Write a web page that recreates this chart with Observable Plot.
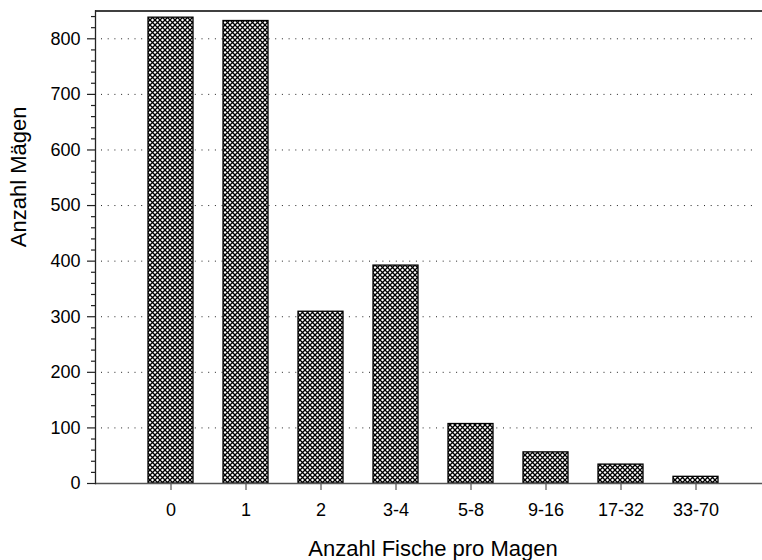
<!DOCTYPE html>
<html><head><meta charset="utf-8">
<script src="https://cdn.jsdelivr.net/npm/d3@7"></script>
<script src="https://cdn.jsdelivr.net/npm/@observablehq/plot@0.6"></script>
<style>body{margin:0;background:#fff}</style>
</head><body><div id="chart"></div>
<script>
const categories = ["0", "1", "2", "3-4", "5-8", "9-16", "17-32", "33-70"];
const counts = [838, 832, 309, 392, 107, 56, 34, 12];
const majorTicks = [0, 100, 200, 300, 400, 500, 600, 700, 800];
const minorTicks = [20, 40, 60, 80, 120, 140, 160, 180, 220, 240, 260, 280, 320, 340, 360, 380, 420, 440, 460, 480, 520, 540, 560, 580, 620, 640, 660, 680, 720, 740, 760, 780, 820, 840];
const gridTicks = [100, 200, 300, 400, 500, 600, 700, 800];
const xLabel = "Anzahl Fische pro Magen";
const yLabel = "Anzahl Mägen";

const data = categories.map((c, i) => ({category: c, count: counts[i]}));

const chart = Plot.plot({
  width: 762,
  height: 560,
  marginLeft: 95,
  marginRight: 0,
  marginTop: 10.5,
  marginBottom: 77,
  x: {domain: categories, range: [95, 770], paddingInner: 0.4, paddingOuter: 0.7, label: null, axis: null},
  y: {domain: [0, 850], label: null, axis: null},
  style: {fontFamily: "'Liberation Sans', Arial, sans-serif", fontSize: "18px", color: "black", background: "white", overflow: "visible"},
  marks: [
    Plot.ruleY(gridTicks, {stroke: "#222", strokeWidth: 1, strokeDasharray: "1,5.7", insetLeft: 6, insetRight: 9}),
    Plot.barY(data, {x: "category", y: "count", fill: "url(#hatch)", stroke: "black", strokeWidth: 1.3}),
    Plot.ruleY([850], {stroke: "black", strokeWidth: 1.3}),
    Plot.ruleY([0], {stroke: "#555", strokeWidth: 1.3}),
    Plot.frame({anchor: "left", stroke: "#222", strokeWidth: 1.3}),
    Plot.axisY(majorTicks, {tickSize: 8, tickPadding: 7, fontSize: 18, stroke: "#222", strokeWidth: 1.2, label: null}),
    Plot.axisY(minorTicks, {tickSize: 4, text: null, stroke: "#222", strokeWidth: 1.2, label: null}),
    Plot.axisX({tickSize: 7, tickPadding: 13, fontSize: 18, stroke: "#555", strokeWidth: 1.2, label: null}),
    Plot.text([yLabel], {frameAnchor: "left", rotate: -90, dx: -77, fontSize: 22}),
    Plot.text([xLabel], {frameAnchor: "bottom", lineAnchor: "bottom", dy: 72, dx: 4, fontSize: 22})
  ]
});

d3.select(chart).insert("defs", ":first-child").html(
  '<pattern id="hatch" width="5" height="5" patternUnits="userSpaceOnUse">' +
  '<rect width="5" height="5" fill="white"></rect>' +
  '<path d="M-1,-1L6,6M6,-1L-1,6" stroke="black" stroke-width="1.3"></path>' +
  '</pattern>'
);

document.getElementById("chart").appendChild(chart);
</script>
</body></html>
